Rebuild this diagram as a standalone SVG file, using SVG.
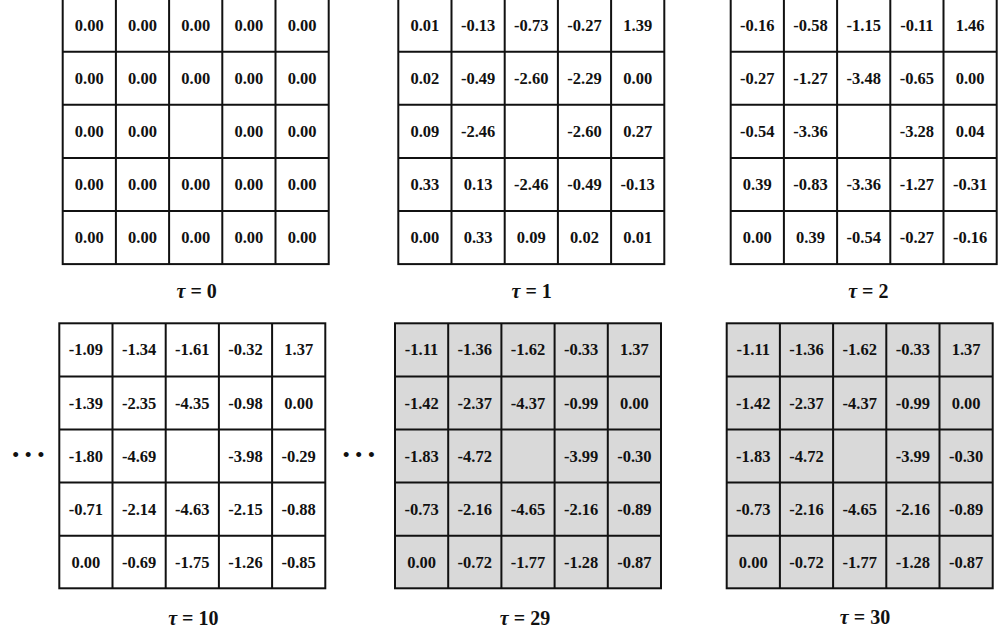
<svg xmlns="http://www.w3.org/2000/svg" xmlns:xlink="http://www.w3.org/1999/xlink" width="999" height="629" viewBox="0 0 999 629">
<style>
.bg{fill:#ffffff}
.frame{fill:#ffffff;stroke:#111111;stroke-width:2}
.grey .frame{fill:#d9d9d9}
.lines{fill:none;stroke:#111111;stroke-width:2}
.v{font-family:"Liberation Serif","Times New Roman",serif;font-weight:bold;font-size:16.5px;text-anchor:middle;fill:#111111}
.lab{font-family:"Liberation Serif","Times New Roman",serif;font-weight:bold;font-size:20px;text-anchor:middle;fill:#111111}
.dots{font-family:"Liberation Serif","Times New Roman",serif;font-size:21px;text-anchor:middle;fill:#111111}
</style>
<defs>
<path id="gl" d="M53.2,0V265.5M106.4,0V265.5M159.6,0V265.5M212.8,0V265.5M0,53.1H266M0,106.2H266M0,159.3H266M0,212.4H266"/>
</defs>
<rect class="bg" x="0" y="0" width="999" height="629"/>

<g id="grid-t0" transform="translate(62.7,-1.4)">
<rect class="frame" x="0" y="0" width="266" height="265.5"/>
<use xlink:href="#gl" href="#gl" class="lines"/>
<text class="v" x="26.6" y="32.2">0.00</text><text class="v" x="79.8" y="32.2">0.00</text><text class="v" x="133" y="32.2">0.00</text><text class="v" x="186.2" y="32.2">0.00</text><text class="v" x="239.4" y="32.2">0.00</text>
<text class="v" x="26.6" y="85.3">0.00</text><text class="v" x="79.8" y="85.3">0.00</text><text class="v" x="133" y="85.3">0.00</text><text class="v" x="186.2" y="85.3">0.00</text><text class="v" x="239.4" y="85.3">0.00</text>
<text class="v" x="26.6" y="138.4">0.00</text><text class="v" x="79.8" y="138.4">0.00</text><text class="v" x="186.2" y="138.4">0.00</text><text class="v" x="239.4" y="138.4">0.00</text>
<text class="v" x="26.6" y="191.5">0.00</text><text class="v" x="79.8" y="191.5">0.00</text><text class="v" x="133" y="191.5">0.00</text><text class="v" x="186.2" y="191.5">0.00</text><text class="v" x="239.4" y="191.5">0.00</text>
<text class="v" x="26.6" y="244.6">0.00</text><text class="v" x="79.8" y="244.6">0.00</text><text class="v" x="133" y="244.6">0.00</text><text class="v" x="186.2" y="244.6">0.00</text><text class="v" x="239.4" y="244.6">0.00</text>
</g>
<text id="label-t0" class="lab" x="196.7" y="298"><tspan font-style="italic">τ</tspan> = 0</text>

<g id="grid-t1" transform="translate(398.3,-1.4)">
<rect class="frame" x="0" y="0" width="266" height="265.5"/>
<use xlink:href="#gl" href="#gl" class="lines"/>
<text class="v" x="26.6" y="32.2">0.01</text><text class="v" x="79.8" y="32.2">-0.13</text><text class="v" x="133" y="32.2">-0.73</text><text class="v" x="186.2" y="32.2">-0.27</text><text class="v" x="239.4" y="32.2">1.39</text>
<text class="v" x="26.6" y="85.3">0.02</text><text class="v" x="79.8" y="85.3">-0.49</text><text class="v" x="133" y="85.3">-2.60</text><text class="v" x="186.2" y="85.3">-2.29</text><text class="v" x="239.4" y="85.3">0.00</text>
<text class="v" x="26.6" y="138.4">0.09</text><text class="v" x="79.8" y="138.4">-2.46</text><text class="v" x="186.2" y="138.4">-2.60</text><text class="v" x="239.4" y="138.4">0.27</text>
<text class="v" x="26.6" y="191.5">0.33</text><text class="v" x="79.8" y="191.5">0.13</text><text class="v" x="133" y="191.5">-2.46</text><text class="v" x="186.2" y="191.5">-0.49</text><text class="v" x="239.4" y="191.5">-0.13</text>
<text class="v" x="26.6" y="244.6">0.00</text><text class="v" x="79.8" y="244.6">0.33</text><text class="v" x="133" y="244.6">0.09</text><text class="v" x="186.2" y="244.6">0.02</text><text class="v" x="239.4" y="244.6">0.01</text>
</g>
<text id="label-t1" class="lab" x="531.7" y="298"><tspan font-style="italic">τ</tspan> = 1</text>

<g id="grid-t2" transform="translate(730.7,-1.4)">
<rect class="frame" x="0" y="0" width="266" height="265.5"/>
<use xlink:href="#gl" href="#gl" class="lines"/>
<text class="v" x="26.6" y="32.2">-0.16</text><text class="v" x="79.8" y="32.2">-0.58</text><text class="v" x="133" y="32.2">-1.15</text><text class="v" x="186.2" y="32.2">-0.11</text><text class="v" x="239.4" y="32.2">1.46</text>
<text class="v" x="26.6" y="85.3">-0.27</text><text class="v" x="79.8" y="85.3">-1.27</text><text class="v" x="133" y="85.3">-3.48</text><text class="v" x="186.2" y="85.3">-0.65</text><text class="v" x="239.4" y="85.3">0.00</text>
<text class="v" x="26.6" y="138.4">-0.54</text><text class="v" x="79.8" y="138.4">-3.36</text><text class="v" x="186.2" y="138.4">-3.28</text><text class="v" x="239.4" y="138.4">0.04</text>
<text class="v" x="26.6" y="191.5">0.39</text><text class="v" x="79.8" y="191.5">-0.83</text><text class="v" x="133" y="191.5">-3.36</text><text class="v" x="186.2" y="191.5">-1.27</text><text class="v" x="239.4" y="191.5">-0.31</text>
<text class="v" x="26.6" y="244.6">0.00</text><text class="v" x="79.8" y="244.6">0.39</text><text class="v" x="133" y="244.6">-0.54</text><text class="v" x="186.2" y="244.6">-0.27</text><text class="v" x="239.4" y="244.6">-0.16</text>
</g>
<text id="label-t2" class="lab" x="868.3" y="298"><tspan font-style="italic">τ</tspan> = 2</text>

<text id="dots-left" class="dots" x="28.3" y="462">• • •</text>

<g id="grid-t10" transform="translate(59.3,323.3)">
<rect class="frame" x="0" y="0" width="266" height="265"/>
<use xlink:href="#gl" href="#gl" class="lines"/>
<text class="v" x="26.6" y="32.2">-1.09</text><text class="v" x="79.8" y="32.2">-1.34</text><text class="v" x="133" y="32.2">-1.61</text><text class="v" x="186.2" y="32.2">-0.32</text><text class="v" x="239.4" y="32.2">1.37</text>
<text class="v" x="26.6" y="85.3">-1.39</text><text class="v" x="79.8" y="85.3">-2.35</text><text class="v" x="133" y="85.3">-4.35</text><text class="v" x="186.2" y="85.3">-0.98</text><text class="v" x="239.4" y="85.3">0.00</text>
<text class="v" x="26.6" y="138.4">-1.80</text><text class="v" x="79.8" y="138.4">-4.69</text><text class="v" x="186.2" y="138.4">-3.98</text><text class="v" x="239.4" y="138.4">-0.29</text>
<text class="v" x="26.6" y="191.5">-0.71</text><text class="v" x="79.8" y="191.5">-2.14</text><text class="v" x="133" y="191.5">-4.63</text><text class="v" x="186.2" y="191.5">-2.15</text><text class="v" x="239.4" y="191.5">-0.88</text>
<text class="v" x="26.6" y="244.6">0.00</text><text class="v" x="79.8" y="244.6">-0.69</text><text class="v" x="133" y="244.6">-1.75</text><text class="v" x="186.2" y="244.6">-1.26</text><text class="v" x="239.4" y="244.6">-0.85</text>
</g>
<text id="label-t10" class="lab" x="193.3" y="625"><tspan font-style="italic">τ</tspan> = 10</text>

<text id="dots-mid" class="dots" x="358.8" y="462">• • •</text>

<g id="grid-t29" class="grey" transform="translate(395,323.3)">
<rect class="frame" x="0" y="0" width="266" height="265"/>
<use xlink:href="#gl" href="#gl" class="lines"/>
<text class="v" x="26.6" y="32.2">-1.11</text><text class="v" x="79.8" y="32.2">-1.36</text><text class="v" x="133" y="32.2">-1.62</text><text class="v" x="186.2" y="32.2">-0.33</text><text class="v" x="239.4" y="32.2">1.37</text>
<text class="v" x="26.6" y="85.3">-1.42</text><text class="v" x="79.8" y="85.3">-2.37</text><text class="v" x="133" y="85.3">-4.37</text><text class="v" x="186.2" y="85.3">-0.99</text><text class="v" x="239.4" y="85.3">0.00</text>
<text class="v" x="26.6" y="138.4">-1.83</text><text class="v" x="79.8" y="138.4">-4.72</text><text class="v" x="186.2" y="138.4">-3.99</text><text class="v" x="239.4" y="138.4">-0.30</text>
<text class="v" x="26.6" y="191.5">-0.73</text><text class="v" x="79.8" y="191.5">-2.16</text><text class="v" x="133" y="191.5">-4.65</text><text class="v" x="186.2" y="191.5">-2.16</text><text class="v" x="239.4" y="191.5">-0.89</text>
<text class="v" x="26.6" y="244.6">0.00</text><text class="v" x="79.8" y="244.6">-0.72</text><text class="v" x="133" y="244.6">-1.77</text><text class="v" x="186.2" y="244.6">-1.28</text><text class="v" x="239.4" y="244.6">-0.87</text>
</g>
<text id="label-t29" class="lab" x="525" y="625"><tspan font-style="italic">τ</tspan> = 29</text>

<g id="grid-t30" class="grey" transform="translate(726.7,323.3)">
<rect class="frame" x="0" y="0" width="266" height="265"/>
<use xlink:href="#gl" href="#gl" class="lines"/>
<text class="v" x="26.6" y="32.2">-1.11</text><text class="v" x="79.8" y="32.2">-1.36</text><text class="v" x="133" y="32.2">-1.62</text><text class="v" x="186.2" y="32.2">-0.33</text><text class="v" x="239.4" y="32.2">1.37</text>
<text class="v" x="26.6" y="85.3">-1.42</text><text class="v" x="79.8" y="85.3">-2.37</text><text class="v" x="133" y="85.3">-4.37</text><text class="v" x="186.2" y="85.3">-0.99</text><text class="v" x="239.4" y="85.3">0.00</text>
<text class="v" x="26.6" y="138.4">-1.83</text><text class="v" x="79.8" y="138.4">-4.72</text><text class="v" x="186.2" y="138.4">-3.99</text><text class="v" x="239.4" y="138.4">-0.30</text>
<text class="v" x="26.6" y="191.5">-0.73</text><text class="v" x="79.8" y="191.5">-2.16</text><text class="v" x="133" y="191.5">-4.65</text><text class="v" x="186.2" y="191.5">-2.16</text><text class="v" x="239.4" y="191.5">-0.89</text>
<text class="v" x="26.6" y="244.6">0.00</text><text class="v" x="79.8" y="244.6">-0.72</text><text class="v" x="133" y="244.6">-1.77</text><text class="v" x="186.2" y="244.6">-1.28</text><text class="v" x="239.4" y="244.6">-0.87</text>
</g>
<text id="label-t30" class="lab" x="865" y="624"><tspan font-style="italic">τ</tspan> = 30</text>
</svg>
